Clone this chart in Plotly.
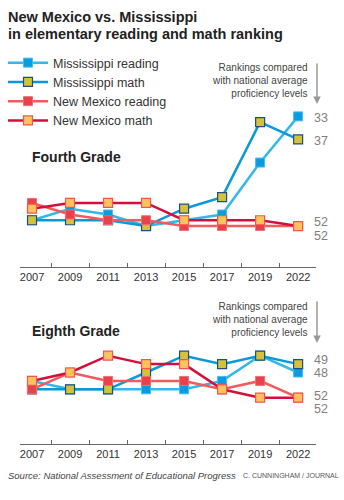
import plotly.graph_objects as go

# Survey years (NAEP)
years = ["2007", "2009", "2011", "2013", "2015", "2017", "2019", "2022"]

# State rankings, fourth grade
g4_ms_reading = [51, 49, 50, 52, 51, 50, 41, 33]
g4_ms_math = [51, 51, 51, 52, 49, 47, 34, 37]
g4_nm_reading = [48, 50, 51, 51, 52, 52, 52, 52]
g4_nm_math = [49, 48, 48, 48, 51, 51, 51, 52]

# State rankings, eighth grade
g8_ms_reading = [50, 51, 51, 51, 51, 50, 47, 49]
g8_ms_math = [51, 51, 51, 49, 47, 48, 47, 48]
g8_nm_reading = [51, 49, 50, 50, 50, 51, 50, 52]
g8_nm_math = [50, 49, 47, 48, 48, 51, 52, 52]

series_names = ["Mississippi reading", "Mississippi math",
                "New Mexico reading", "New Mexico math"]

W, H = 344, 500
FONT = "Liberation Sans, Arial, sans-serif"


def py(p):
    """Convert a pixel offset from the top into paper coordinates."""
    return 1 - p / H


def px(p):
    return p / W


styles = [
    dict(line=dict(color="#35b6ec", width=2.5),
         marker=dict(symbol="square", size=9, color="#0b9be0",
                     line=dict(color="#45bdf0", width=1))),
    dict(line=dict(color="#0a98d8", width=2.5),
         marker=dict(symbol="square", size=9, color="#d2c23c",
                     line=dict(color="#1d4f80", width=1.2))),
    dict(line=dict(color="#f25a5c", width=2.5),
         marker=dict(symbol="square", size=9, color="#e8414b",
                     line=dict(color="#f07070", width=1))),
    dict(line=dict(color="#d3103c", width=2.5),
         marker=dict(symbol="square", size=9, color="#ffc35e",
                     line=dict(color="#f25550", width=1.2))),
]

fig = go.Figure()

panels = [
    ("x", "y", [g4_ms_reading, g4_ms_math, g4_nm_reading, g4_nm_math], True),
    ("x2", "y2", [g8_ms_reading, g8_ms_math, g8_nm_reading, g8_nm_math], False),
]

for xa, ya, data, show in panels:
    for name, vals, st in zip(series_names, data, styles):
        fig.add_trace(go.Scatter(
            x=years, y=vals, name=name, mode="lines+markers",
            xaxis=xa, yaxis=ya, showlegend=show, legendgroup=name,
            line=st["line"], marker=st["marker"], hoverinfo="x+y+name",
        ))

xaxis_common = dict(
    type="category", range=[-0.316, 7.47], domain=[px(20), px(316)],
    showline=True, linecolor="#666666", linewidth=1,
    tickson="boundaries", ticks="inside", ticklen=4, tickcolor="#666666",
    showgrid=False, zeroline=False,
    tickfont=dict(family=FONT, size=11, color="#333333"),
    fixedrange=True,
)

fig.update_layout(
    width=W, height=H,
    margin=dict(l=0, r=0, t=0, b=0),
    paper_bgcolor="white", plot_bgcolor="white",
    font=dict(family=FONT),
    xaxis=dict(anchor="y", **xaxis_common),
    yaxis=dict(domain=[py(267), py(100)], range=[59.1, 30.16],
               visible=False, fixedrange=True),
    xaxis2=dict(anchor="y2", **xaxis_common),
    yaxis2=dict(domain=[py(444), py(340)], range=[57.51, 45.13],
                visible=False, fixedrange=True),
    legend=dict(x=px(3), y=py(48), xanchor="left", yanchor="top",
                font=dict(family=FONT, size=12.5, color="#333333"),
                bgcolor="rgba(0,0,0,0)", itemwidth=40,
                tracegroupgap=0, traceorder="normal"),
    showlegend=True,
)

ann = []

# Headline
ann.append(dict(x=px(6), y=py(17), xref="paper", yref="paper",
                xanchor="left", yanchor="middle", showarrow=False,
                text="<b>New Mexico vs. Mississippi</b>",
                font=dict(family=FONT, size=14.5, color="#222222")))
ann.append(dict(x=px(6), y=py(34), xref="paper", yref="paper",
                xanchor="left", yanchor="middle", showarrow=False,
                text="<b>in elementary reading and math ranking</b>",
                font=dict(family=FONT, size=14.5, color="#222222")))

# Panel titles
for title, yc in [("Fourth Grade", 157), ("Eighth Grade", 331)]:
    ann.append(dict(x=px(30), y=py(yc), xref="paper", yref="paper",
                    xanchor="left", yanchor="middle", showarrow=False,
                    text="<b>" + title + "</b>",
                    font=dict(family=FONT, size=14, color="#222222")))

# Explanatory note with downward arrow
for top, arrow_top, arrow_tip in [(60, 62, 104), (299, 300, 343)]:
    ann.append(dict(x=px(310), y=py(top), xref="paper", yref="paper",
                    xanchor="right", yanchor="top", showarrow=False,
                    align="right",
                    text="Rankings compared<br>with national average<br>proficiency levels",
                    font=dict(family=FONT, size=10, color="#444444")))
    ann.append(dict(x=px(317), y=py(arrow_tip), xref="paper", yref="paper",
                    ax=0, ay=-(arrow_tip - arrow_top),
                    showarrow=True, arrowhead=2, arrowsize=1,
                    arrowwidth=1.5, arrowcolor="#999999", text=""))

# Latest rankings listed at the right of each panel
label_rows = [
    ([g4_ms_reading, g4_ms_math, g4_nm_reading, g4_nm_math], [118, 141, 222, 236]),
    ([g8_ms_reading, g8_ms_math, g8_nm_reading, g8_nm_math], [360, 373, 396, 409]),
]
for data, rows in label_rows:
    for vals, yc in zip(data, rows):
        ann.append(dict(x=px(312), y=py(yc), xref="paper", yref="paper",
                        xanchor="left", yanchor="middle", showarrow=False,
                        text=str(vals[-1]),
                        font=dict(family=FONT, size=12.5, color="#808080")))

# Footer
ann.append(dict(x=px(6), y=py(475), xref="paper", yref="paper",
                xanchor="left", yanchor="middle", showarrow=False,
                text="<i>Source: National Assessment of Educational Progress</i>",
                font=dict(family=FONT, size=9.5, color="#444444")))
ann.append(dict(x=px(341), y=py(475), xref="paper", yref="paper",
                xanchor="right", yanchor="middle", showarrow=False,
                text="C. CUNNINGHAM / JOURNAL",
                font=dict(family=FONT, size=7, color="#555555")))

fig.update_layout(annotations=ann)

fig.write_html("out.html", config=dict(displayModeBar=False))
